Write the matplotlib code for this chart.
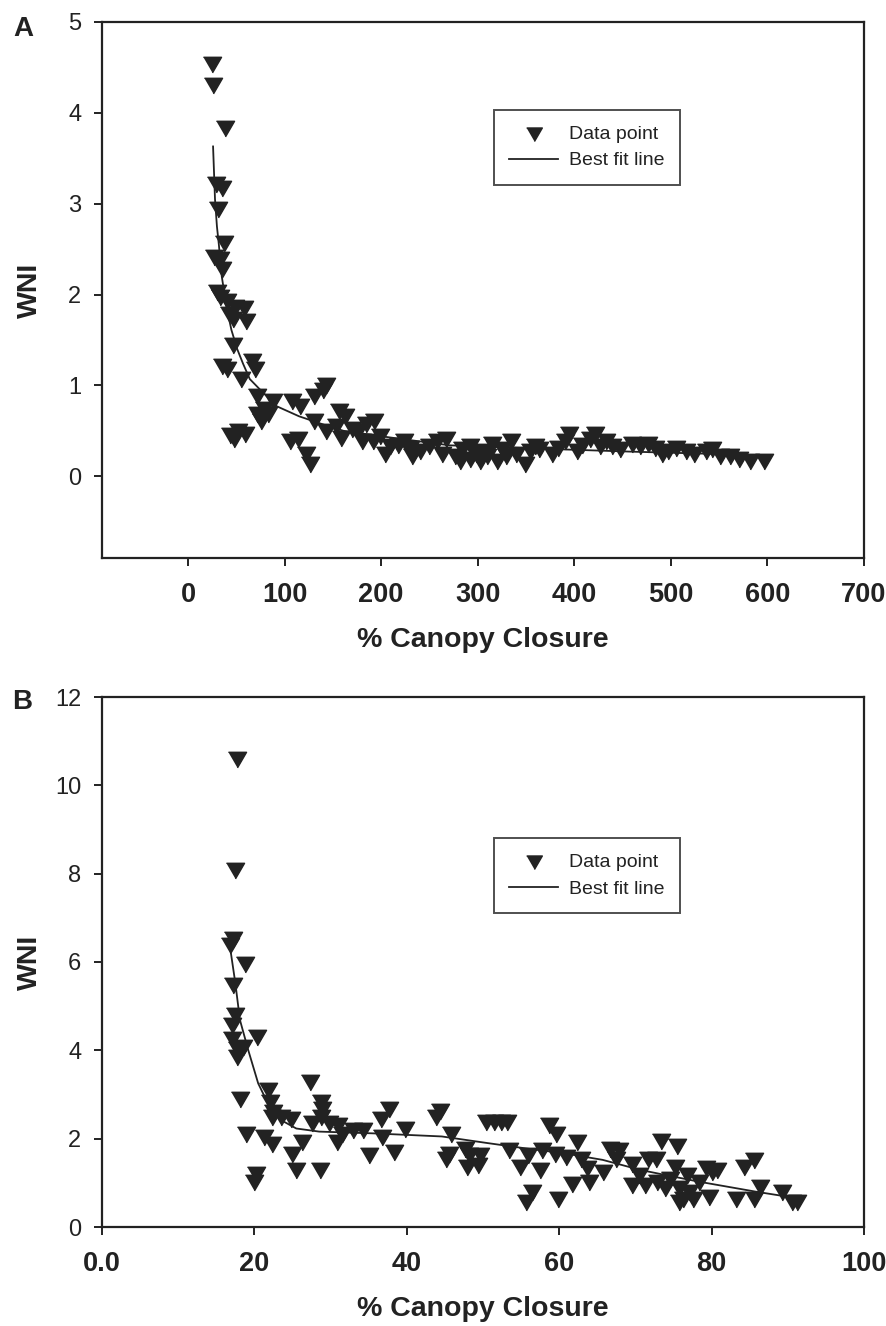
import matplotlib
matplotlib.use("Agg")
import matplotlib.pyplot as plt
from matplotlib.lines import Line2D

plt.rcParams['font.family'] = ['Liberation Sans', 'DejaVu Sans']

# ---------------- Panel A data ----------------
a_x = [24.9, 26, 38, 29, 35, 31, 37, 27, 33, 35, 30, 33, 40, 49, 42, 58, 60, 47, 47, 35,
       40, 66, 69, 55, 72, 79, 88, 83, 72, 76, 59, 52, 48, 44, 108, 116, 131, 140, 143, 106,
       114, 122, 126, 131, 143, 153, 156, 163, 158, 170, 176, 180, 184, 193, 199, 192, 209, 204, 217, 224,
       230, 232, 240, 250, 258, 267, 263, 276, 282, 284, 292, 292, 298, 302, 306, 310, 315, 320, 325, 329,
       335, 340, 349, 354, 359, 364, 377, 383, 390, 395, 403, 408, 416, 421, 427, 433, 439, 447, 460, 468,
       476, 484, 491, 497, 505, 516, 524, 536, 543, 551, 561, 571, 582, 596]
a_y = [4.56, 4.33, 3.85, 3.24, 3.2, 2.96, 2.59, 2.44, 2.41, 2.30, 2.05, 2.0, 1.95, 1.89, 1.81, 1.87, 1.73, 1.75, 1.47, 1.23,
       1.2, 1.29, 1.2, 1.09, 0.9, 0.76, 0.85, 0.71, 0.71, 0.63, 0.49, 0.52, 0.43, 0.48, 0.85, 0.79, 0.9, 0.97, 1.03, 0.41,
       0.43, 0.27, 0.16, 0.63, 0.52, 0.57, 0.74, 0.68, 0.44, 0.54, 0.52, 0.41, 0.6, 0.63, 0.46, 0.41, 0.35, 0.27, 0.37, 0.41,
       0.33, 0.24, 0.3, 0.35, 0.41, 0.43, 0.27, 0.24, 0.19, 0.32, 0.35, 0.21, 0.27, 0.19, 0.3, 0.24, 0.38, 0.19, 0.32, 0.24,
       0.41, 0.27, 0.16, 0.3, 0.35, 0.32, 0.27, 0.33, 0.41, 0.49, 0.3, 0.37, 0.43, 0.49, 0.35, 0.41, 0.35, 0.32, 0.38, 0.35,
       0.38, 0.33, 0.27, 0.3, 0.33, 0.3, 0.27, 0.3, 0.32, 0.24, 0.24, 0.21, 0.19, 0.19]
a_fit_x = [26, 28, 30, 32, 35, 40, 45, 51, 57, 64, 75, 92, 115, 140, 161, 200, 271, 375, 461, 530, 596]
a_fit_y = [3.63, 3.05, 2.75, 2.55, 2.2, 1.86, 1.61, 1.40, 1.24, 1.07, 0.95, 0.77, 0.66, 0.57, 0.50, 0.44, 0.34, 0.30, 0.27, 0.25, 0.23]
a_xticks = [0, 100, 200, 300, 400, 500, 600, 700]
a_yticks = [0, 1, 2, 3, 4, 5]

# ---------------- Panel B data ----------------
b_x = [17.7, 17.5, 17.2, 16.8, 18.8, 17.2, 17.5, 17.1, 17.1, 20.3, 17.7, 18.5, 17.7, 27.3, 21.8,
       18.1, 22.0, 22.5, 22.3, 23.5, 24.8, 18.9, 21.3, 22.3, 20.25, 19.9, 26.3, 25.0, 25.5, 28.6,
       27.5, 28.8, 28.9, 28.8, 29.8, 31.0, 30.8, 31.5, 33.0, 34.3, 35.1, 36.6, 37.6, 36.8, 38.3,
       39.8, 44.3, 43.8, 45.8, 45.1, 45.6, 47.6, 48.1, 47.9, 49.4, 49.6, 50.4, 51.4, 52.4, 53.1,
       53.4, 54.9, 55.9, 56.4, 55.6, 57.8, 57.5, 58.6, 59.6, 59.9, 59.4, 60.9, 61.7, 62.4, 62.9,
       63.7, 63.9, 65.7, 66.7, 67.9, 67.4, 69.5, 69.5, 70.5, 71.2, 71.7, 72.7, 73.4, 72.9, 73.9,
       74.5, 75.5, 75.2, 75.7, 76.2, 75.7, 76.8, 77.0, 77.5, 78.3, 79.3, 80.0, 80.7, 79.6, 83.2,
       84.2, 85.5, 86.3, 85.5, 89.2, 90.5, 91.2]
b_y = [10.64, 8.13, 6.57, 6.43, 6.0, 5.52, 4.84, 4.62, 4.30, 4.35, 4.08, 4.12, 3.9, 3.33, 3.15,
       2.95, 2.88, 2.65, 2.53, 2.53, 2.50, 2.16, 2.08, 1.93, 1.25, 1.07, 1.97, 1.70, 1.33, 1.33,
       2.39, 2.88, 2.72, 2.53, 2.39, 2.35, 1.97, 2.16, 2.24, 2.24, 1.67, 2.50, 2.72, 2.08, 1.74,
       2.27, 2.68, 2.53, 2.16, 1.59, 1.70, 1.82, 1.67, 1.41, 1.45, 1.67, 2.42, 2.42, 2.42, 2.42,
       1.78, 1.41, 1.67, 0.84, 0.61, 1.78, 1.33, 2.35, 2.16, 0.69, 1.70, 1.63, 1.03, 1.97, 1.59,
       1.37, 1.07, 1.29, 1.82, 1.78, 1.59, 1.48, 0.99, 1.22, 0.99, 1.59, 1.59, 2.0, 1.07, 0.92,
       1.14, 1.89, 1.41, 0.92, 0.69, 0.61, 1.22, 0.84, 0.69, 1.07, 1.37, 1.29, 1.33, 0.72, 0.69,
       1.41, 1.56, 0.95, 0.69, 0.84, 0.61, 0.61]
b_fit_x = [16.8, 17.5, 18.1, 19.2, 20.5, 22.0, 23.5, 25.5, 28.5, 35.6, 44.6, 50.6, 55.6, 60.6, 65.7, 70.7, 78.2, 85.8, 91.3]
b_fit_y = [6.34, 5.52, 4.69, 4.0, 3.25, 2.72, 2.42, 2.23, 2.16, 2.12, 2.05, 1.90, 1.78, 1.67, 1.52, 1.29, 1.03, 0.80, 0.65]
b_xticks = [0, 20, 40, 60, 80, 100]
b_xticklabels = ["0.0", "20", "40", "60", "80", "100"]
b_yticks = [0, 2, 4, 6, 8, 10, 12]

W, H = 887, 1326
fig = plt.figure(figsize=(W / 100, H / 100), dpi=100)

DARK = "#222222"
tri = [(-0.87, 0.5), (0.87, 0.5), (0.0, -1.0)]


def frac(x0, y0, x1, y1):
    return [x0 / W, 1 - y1 / H, (x1 - x0) / W, (y1 - y0) / H]


def style(ax):
    for s in ax.spines.values():
        s.set_linewidth(1.6)
        s.set_color(DARK)
    ax.tick_params(direction='out', length=6, width=1.4, color=DARK,
                   top=False, right=False, labelsize=17, labelcolor=DARK)
    ax.tick_params(axis='x', pad=11)
    ax.tick_params(axis='y', pad=9)
    for lab in ax.get_xticklabels():
        lab.set_fontweight('bold')
        lab.set_fontsize(19.5)


def legend(ax, anchor):
    handles = [Line2D([], [], linestyle='none', marker=tri, markersize=13,
                      color=DARK, markeredgecolor=DARK),
               Line2D([], [], color=DARK, lw=1.3)]
    lg = ax.legend(handles, ["Data point", "Best fit line"], loc='upper left',
                   bbox_to_anchor=anchor, frameon=True, fancybox=False,
                   edgecolor=DARK, fontsize=14, handlelength=2.5,
                   borderpad=0.8, labelspacing=0.45, handletextpad=0.55,
                   borderaxespad=0)
    lg.get_frame().set_linewidth(1.4)
    for t in lg.get_texts():
        t.set_color(DARK)


# Panel A
axA = fig.add_axes(frac(102, 22, 864, 558))
axA.plot(a_fit_x, a_fit_y, color=DARK, lw=1.3, zorder=2)
axA.plot(a_x, a_y, linestyle='none', marker=tri, markersize=15, color=DARK,
         markeredgecolor=DARK, zorder=3)
axA.set_xlim(-89, 700)
axA.set_ylim(-0.9, 5)
axA.set_xticks(a_xticks)
axA.set_yticks(a_yticks)
style(axA)
axA.set_xlabel("% Canopy Closure", fontsize=20.5, fontweight='bold', color=DARK, labelpad=14)
axA.set_ylabel("WNI", fontsize=20.5, fontweight='bold', color=DARK)
axA.yaxis.set_label_coords(-0.077, 0.5)
legend(axA, (0.514, 0.836))
fig.text(23 / W, 1 - 29 / H, "A", fontsize=20, fontweight='bold', ha='center', va='center', color=DARK)

# Panel B
axB = fig.add_axes(frac(102, 697, 864, 1227))
axB.plot(b_fit_x, b_fit_y, color=DARK, lw=1.3, zorder=2)
axB.plot(b_x, b_y, linestyle='none', marker=tri, markersize=15, color=DARK,
         markeredgecolor=DARK, zorder=3)
axB.set_xlim(0, 100)
axB.set_ylim(0, 12)
axB.set_xticks(b_xticks)
axB.set_xticklabels(b_xticklabels)
axB.set_yticks(b_yticks)
style(axB)
axB.set_xlabel("% Canopy Closure", fontsize=20.5, fontweight='bold', color=DARK, labelpad=14)
axB.set_ylabel("WNI", fontsize=20.5, fontweight='bold', color=DARK)
axB.yaxis.set_label_coords(-0.077, 0.5)
legend(axB, (0.514, 0.734))
fig.text(22 / W, 1 - 702 / H, "B", fontsize=20, fontweight='bold', ha='center', va='center', color=DARK)

fig.savefig("out.png", dpi=100, facecolor='white')
